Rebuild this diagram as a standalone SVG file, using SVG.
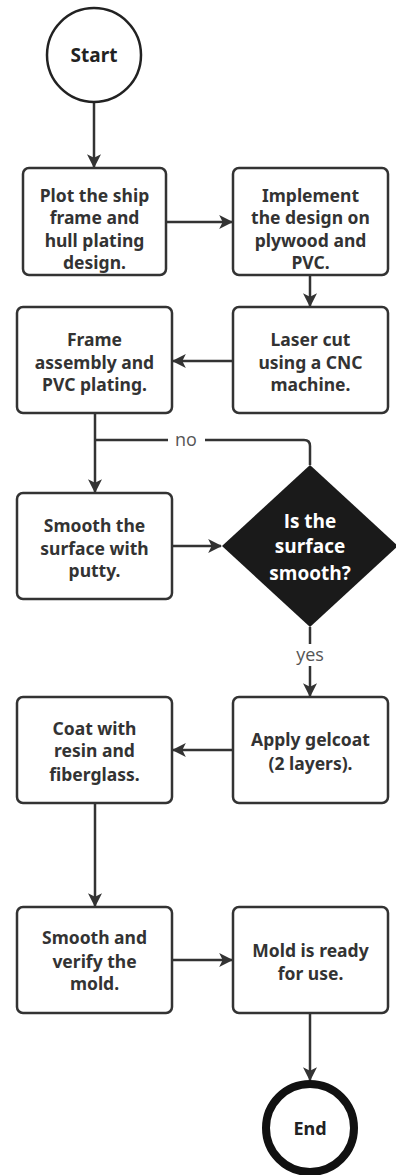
<svg xmlns="http://www.w3.org/2000/svg" width="396" height="1175" viewBox="0 0 396 1175">
<style>
.box{fill:#fff;stroke:#333;stroke-width:2.5}
.t{font-family:"Noto Sans",Lato,sans-serif;font-weight:700;font-size:17.5px;fill:#333;text-anchor:middle;dominant-baseline:central}
.dt{font-family:"Open Sans","Noto Sans",sans-serif;font-weight:700;font-size:19px;fill:#fff;text-anchor:middle;dominant-baseline:central}
.lbl{font-family:"Open Sans","Noto Sans",sans-serif;font-size:18px;fill:#555;text-anchor:middle;dominant-baseline:central}
.c{fill:none;stroke:#333;stroke-width:2.5}
</style>
<defs>
<marker id="ah" markerUnits="userSpaceOnUse" markerWidth="14" markerHeight="14" viewBox="0 0 12 12" refX="11" refY="6" orient="auto">
<path d="M0,0 L12,6 L0,12 L3,6 z" fill="#333"/>
</marker>
</defs>
<rect width="396" height="1175" fill="#fff"/>
<g id="connectors">
<path class="c" d="M94,102 V167" marker-end="url(#ah)"/>
<path class="c" d="M166,222 H232" marker-end="url(#ah)"/>
<path class="c" d="M310,275 V306" marker-end="url(#ah)"/>
<path class="c" d="M233,361 H173" marker-end="url(#ah)"/>
<path class="c" d="M95,413 V492" marker-end="url(#ah)"/>
<path class="c" d="M172,546 H221" marker-end="url(#ah)"/>
<path class="c" d="M310,465 V446 Q310,440 304,440 H95"/>
<rect x="168" y="430" width="37" height="20" fill="#fff"/>
<text class="lbl" x="186" y="439">no</text>
<path class="c" d="M310,627 V696" marker-end="url(#ah)"/>
<rect x="290" y="644" width="40" height="22" fill="#fff"/>
<text class="lbl" x="310" y="654">yes</text>
<path class="c" d="M233,750 H173" marker-end="url(#ah)"/>
<path class="c" d="M95,803 V906" marker-end="url(#ah)"/>
<path class="c" d="M172,960 H232" marker-end="url(#ah)"/>
<path class="c" d="M310,1013 V1080" marker-end="url(#ah)"/>
</g>
<g id="start">
<circle cx="94" cy="55" r="47" fill="#fff" stroke="#222" stroke-width="2.5"/>
<text class="t" x="94" y="55" style="fill:#222;font-size:19px">Start</text>
</g>
<g id="plot">
<rect class="box" x="23" y="168" width="143" height="107" rx="6"/>
<text class="t" x="94.5" y="195">Plot the ship</text>
<text class="t" x="94.5" y="217">frame and</text>
<text class="t" x="94.5" y="240">hull plating</text>
<text class="t" x="94.5" y="262">design.</text>
</g>
<g id="implement">
<rect class="box" x="233" y="168" width="155" height="107" rx="6"/>
<text class="t" x="310.5" y="195">Implement</text>
<text class="t" x="310.5" y="217">the design on</text>
<text class="t" x="310.5" y="240">plywood and</text>
<text class="t" x="310.5" y="262">PVC.</text>
</g>
<g id="frame">
<rect class="box" x="17" y="307" width="155" height="106" rx="6"/>
<text class="t" x="94.5" y="339">Frame</text>
<text class="t" x="94.5" y="362">assembly and</text>
<text class="t" x="94.5" y="384">PVC plating.</text>
</g>
<g id="laser">
<rect class="box" x="233" y="307" width="155" height="106" rx="6"/>
<text class="t" x="310.5" y="339">Laser cut</text>
<text class="t" x="310.5" y="362">using a CNC</text>
<text class="t" x="310.5" y="384">machine.</text>
</g>
<g id="putty">
<rect class="box" x="17" y="493" width="155" height="106" rx="6"/>
<text class="t" x="94.5" y="525">Smooth the</text>
<text class="t" x="94.5" y="548">surface with</text>
<text class="t" x="94.5" y="570">putty.</text>
</g>
<g id="decision">
<polygon points="310,465 398,546 310,627 222,546" fill="#1a1a1a"/>
<text class="dt" x="310" y="521">Is the</text>
<text class="dt" x="310" y="546">surface</text>
<text class="dt" x="310" y="573">smooth?</text>
</g>
<g id="gelcoat">
<rect class="box" x="233" y="697" width="155" height="106" rx="6"/>
<text class="t" x="310.5" y="739">Apply gelcoat</text>
<text class="t" x="310.5" y="763">(2 layers).</text>
</g>
<g id="coat">
<rect class="box" x="17" y="697" width="155" height="106" rx="6"/>
<text class="t" x="94.5" y="728">Coat with</text>
<text class="t" x="94.5" y="750">resin and</text>
<text class="t" x="94.5" y="774">fiberglass.</text>
</g>
<g id="verify">
<rect class="box" x="17" y="907" width="155" height="106" rx="6"/>
<text class="t" x="94.5" y="937">Smooth and</text>
<text class="t" x="94.5" y="961">verify the</text>
<text class="t" x="94.5" y="983">mold.</text>
</g>
<g id="ready">
<rect class="box" x="233" y="907" width="155" height="106" rx="6"/>
<text class="t" x="310.5" y="950">Mold is ready</text>
<text class="t" x="310.5" y="973">for use.</text>
</g>
<g id="end">
<circle cx="310" cy="1128" r="44" fill="#fff" stroke="#111" stroke-width="8"/>
<text class="t" x="310" y="1128" style="fill:#222;font-size:18px">End</text>
</g>
</svg>
